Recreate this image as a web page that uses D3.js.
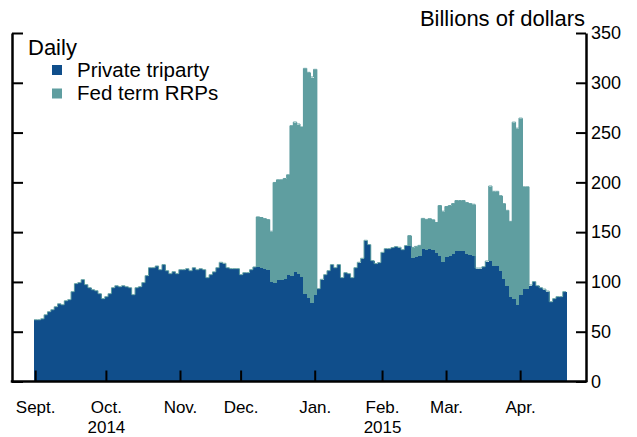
<!DOCTYPE html>
<html><head><meta charset="utf-8">
<script src="https://cdn.jsdelivr.net/npm/d3@7"></script>
<style>
html,body{margin:0;padding:0;background:#fff;}
svg{display:block;font-family:"Liberation Sans",Arial,Helvetica,sans-serif;}
</style></head>
<body>
<svg id="chart" width="637" height="437"></svg>
<script>
// Business-day series, Sept. 2, 2014 – Apr. 20, 2015 (billions of dollars)
const privateTriparty = [
61.5,61.5,62.5,66.5,69.6,71.6,74.6,77.6,76.6,80.6,81.7,89.7,97.8,98.8,101.8,96.8,93.7,91.7,90.7,87.7,82.7,
84.7,87.7,93.7,95.7,94.7,95.7,94.7,93.7,86.7,93.7,94.7,98.8,105.8,113.8,113.8,115.5,111.8,116.9,110.8,107.8,109.8,107.8,
111.8,111.8,112.8,110.8,113.8,111.8,112.8,111.8,103.8,106.8,109.6,113.8,119.2,118.2,113.8,112.8,112.8,112.8,
106.8,108.8,108.8,111.8,114.5,114.8,114.2,113.1,112.1,100.4,99.4,102.1,102.1,103.4,107.1,106.4,110.1,108.1,105.1,88,84,79.3,
87,92.7,102.1,106.8,110.8,116.9,113.8,116.9,103.8,108.8,107.8,103.8,113.8,119.2,123.2,141.3,137,120.9,117.9,118.9,
129.2,132.9,132.9,134,135,134.3,131.9,136,136,124.2,125.2,126.2,133.3,132.3,133,131.9,129.2,126.2,120.5,
125.2,126.2,128.2,131.2,131.2,131.2,128.2,127.2,126.5,113.4,113.4,114.8,120.5,120.8,115.5,115.5,111.1,103.1,96.4,85.3,83,76.9,
87,93,93,96.4,99.8,95.7,93.7,92.3,90.3,79.6,82.7,84.7,84.7,89.7
];
const fedTermRRP = [
0,0,0,0,0, 0,0,0,0,0, 0,0,0,0,0, 0,0,0,0,0, 0,
0,0,0,0,0, 0,0,0,0,0, 0,0,0,0,0, 0,0,0,0,0, 0,0,
0,0,0,0,0, 0,0,0,0,0, 0,0,0,0,0, 0,0,0,
0,0,0,0,0, 50,50,50,50,50, 100,100,100,100,100, 150,150,150,150, 226,226,226,
226, 0,0,0,0, 0,0,0,0,0, 0,0,0,0,0, 0,0,0,0,0,
0,0,0,0,0, 0,0,0, 10,10,10,10, 30,30,30,30,30, 50,50,
50,50,50,50,50,50, 51,51,51, 0,0,0,0, 75,75,75,75,75,75,75, 177,177,
177, 102,102, 0,0,0,0,0, 0,0,0,0,0, 0
];
const monthLabels = ["Sept.","Oct.","Nov.","Dec.","Jan.","Feb.","Mar.","Apr."];
const monthStartIndex = [0,21,43,61,83,103,122,144];
const yearLabels = ["2014","2015"];
const yearLabelMonth = ["Oct.","Feb."];
const yTicks = [0,50,100,150,200,250,300,350];
const seriesNames = ["Private triparty","Fed term RRPs"];

const BLUE = "#104E8B", TEAL = "#5F9EA0";
const N = privateTriparty.length;
const data = d3.range(N).map(i => ({i, p: privateTriparty[i], r: fedTermRRP[i] || 0}));

const svg = d3.select("#chart");
const mLeft = 12, mRight = 586, mTop = 33, mBottom = 381.5;

const x = d3.scaleBand().domain(d3.range(N)).range([34, 566.1]).padding(0);
const y = d3.scaleLinear().domain([0, 350]).range([mBottom, mTop]);

const bars = svg.append("g").attr("shape-rendering", "crispEdges");
bars.selectAll("rect.p").data(data).join("rect")
  .attr("class", "p")
  .attr("x", d => x(d.i)).attr("width", x.bandwidth() + 0.4)
  .attr("y", d => y(d.p)).attr("height", d => y(0) - y(d.p))
  .attr("fill", BLUE);
bars.selectAll("rect.r").data(data.filter(d => d.r > 0)).join("rect")
  .attr("class", "r")
  .attr("x", d => x(d.i)).attr("width", x.bandwidth() + 0.4)
  .attr("y", d => y(d.p + d.r)).attr("height", d => y(d.p) - y(d.p + d.r))
  .attr("fill", TEAL);

// thin top edge of the stack
const topPts = data.map(d => [x(d.i), y(d.p + d.r)]);
topPts.push([x(N - 1) + x.bandwidth(), y(data[N - 1].p + data[N - 1].r)]);
svg.append("path")
  .attr("d", d3.line().curve(d3.curveStepAfter)(topPts))
  .attr("fill", "none").attr("stroke", TEAL).attr("stroke-width", 1)
  .attr("transform", "translate(0,-0.5)");

// axes
const axisColor = "#000";
const gl = svg.append("g").attr("transform", `translate(${mLeft},0)`)
  .call(d3.axisLeft(y).tickValues(yTicks).tickSize(-11).tickSizeOuter(0).tickFormat(""));
const gr = svg.append("g").attr("transform", `translate(${mRight},0)`)
  .call(d3.axisRight(y).tickValues(yTicks).tickSize(-10).tickSizeOuter(0).tickPadding(5));
const monthPos = i => x(i) + x.bandwidth() / 2;

[gl, gr].forEach(g => {
  g.select(".domain").attr("stroke", axisColor).attr("stroke-width", 2.5);
  g.selectAll(".tick line").attr("stroke", axisColor).attr("stroke-width", 2);
});
gr.selectAll(".tick text").attr("font-size", 18).attr("fill", "#000")
  .attr("font-family", "Liberation Sans, Arial, sans-serif");

// bottom axis line
svg.append("line").attr("x1", mLeft - 1.25).attr("x2", mRight + 1.25)
  .attr("y1", y(0)).attr("y2", y(0))
  .attr("stroke", axisColor).attr("stroke-width", 2.5);

// month ticks (pointing up) and labels
const mt = svg.append("g");
mt.selectAll("line").data(monthStartIndex).join("line")
  .attr("x1", d => monthPos(d)).attr("x2", d => monthPos(d))
  .attr("y1", mBottom).attr("y2", mBottom - 11)
  .attr("stroke", axisColor).attr("stroke-width", 2);
mt.selectAll("text.m").data(monthLabels).join("text")
  .attr("class", "m")
  .attr("x", (d, k) => monthPos(monthStartIndex[k])).attr("y", 413)
  .attr("text-anchor", "middle").attr("font-size", 17).text(d => d);
mt.selectAll("text.yr").data(yearLabels).join("text")
  .attr("class", "yr")
  .attr("x", (d, k) => monthPos(monthStartIndex[monthLabels.indexOf(yearLabelMonth[k])]))
  .attr("y", 433)
  .attr("text-anchor", "middle").attr("font-size", 17).text(d => d);

// unit label
svg.append("text").attr("x", 585).attr("y", 26).attr("text-anchor", "end")
  .attr("font-size", 22).text("Billions of dollars");

// legend
svg.append("text").attr("x", 28).attr("y", 55).attr("font-size", 22).text("Daily");
const lg = svg.append("g");
const legY = [65, 88.5];
lg.selectAll("rect").data(seriesNames).join("rect")
  .attr("x", 52).attr("y", (d, k) => legY[k]).attr("width", 10).attr("height", 10)
  .attr("fill", (d, k) => k === 0 ? BLUE : TEAL);
lg.selectAll("text").data(seriesNames).join("text")
  .attr("x", 77).attr("y", (d, k) => legY[k] + 11.8).attr("font-size", 20.5).text(d => d);
</script>
</body></html>
